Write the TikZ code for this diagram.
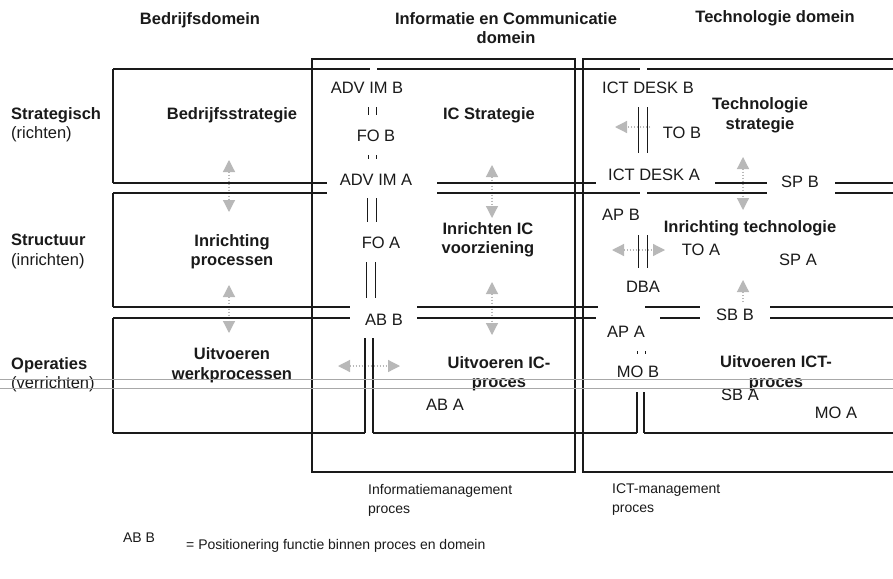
\documentclass[tikz,border=0pt]{standalone}
\usepackage{fontspec}
\setmainfont{Liberation Sans}
\usetikzlibrary{arrows.meta}
\definecolor{ink}{HTML}{1A1A1A}
\definecolor{ghost}{HTML}{B8B8B8}
\definecolor{scanline}{HTML}{A8A8A8}
\begin{document}
\begin{tikzpicture}[x=1pt,y=-1pt,
  txt/.style={font=\fontsize{16.5}{19.5}\selectfont, text=ink, inner sep=0pt, align=center},
  btxt/.style={txt, font=\fontsize{16.5}{19.5}\selectfont\bfseries},
  stxt/.style={font=\fontsize{14}{19}\selectfont, text=ink, inner sep=0pt, align=left},
  rule/.style={draw=ink, line width=1.1pt},
  link/.style={draw=ink, line width=1pt},
  garrow/.style={draw=ghost, line width=1.2pt, dash pattern=on 1.5pt off 1.5pt,
    {Triangle[width=12pt,length=12pt]}-{Triangle[width=12pt,length=12pt]}},
  garrowone/.style={draw=ghost, line width=1.2pt, dash pattern=on 1.5pt off 1.5pt,
    -{Triangle[width=12pt,length=12pt]}},
  fold/.style={draw=scanline, line width=0.8pt}
]
\useasboundingbox (0,0) rectangle (893,578);
\fill[white] (0,0) rectangle (893,578);
\clip (0,0) rectangle (893,578);

% ---- grey arrows (drawn first) ----
\coordinate (a1) at (229,160); \coordinate (a2) at (229,212);
\coordinate (a3) at (229,285); \coordinate (a4) at (229,333);
\coordinate (b1) at (492,165); \coordinate (b2) at (492,218);
\coordinate (b3) at (492,282); \coordinate (b4) at (492,335);
\coordinate (c1) at (743,157); \coordinate (c2) at (743,210);
\coordinate (c3) at (743,302); \coordinate (c4) at (743,280);
\coordinate (h1) at (338,366); \coordinate (h2) at (400,366);
\coordinate (h3) at (650,127); \coordinate (h4) at (615,127);
\coordinate (h5) at (612,250); \coordinate (h6) at (665,250);
\draw[garrow] (a1) -- (a2);
\draw[garrow] (a3) -- (a4);
\draw[garrow] (b1) -- (b2);
\draw[garrow] (b3) -- (b4);
\draw[garrow] (c1) -- (c2);
\draw[garrowone] (c3) -- (c4);
\draw[garrow] (h1) -- (h2);
\draw[garrowone] (h3) -- (h4);
\draw[garrow] (h5) -- (h6);

% ---- column frames ----
\draw[rule] (312,59) rectangle (575,472);
\draw[rule] (900,59) -- (583,59) -- (583,472) -- (900,472);

% ---- row frames ----
\foreach \a/\b in {69/183,193/307,318/433} \draw[rule] (113,\a) -- (113,\b);
\foreach \y/\s/\e in {69/113/370, 69/377/640, 69/647/900,
  183/113/327, 183/437/596, 183/715/767, 183/835/900,
  193/113/327, 193/437/640, 193/647/767, 193/835/900,
  307/113/350, 307/417/598, 307/645/700, 307/770/900,
  318/113/350, 318/417/596, 318/660/700, 318/770/900,
  433/113/365, 433/373/637, 433/644/900}
  \draw[rule] (\s,\y) -- (\e,\y);

% ---- headings ----
\node[btxt] (hBD) at (200,20) {Bedrijfsdomein};
\node[btxt] (hIC) at (506,28) {Informatie en Communicatie\\domein};
\node[btxt] (hTD) at (775,18) {Technologie domein};

% ---- row labels ----
\node[txt, anchor=west, align=left] (rS) at (11,124.5) {\textbf{Strategisch}\\(richten)};
\node[txt, anchor=west, align=left] (rI) at (11,251.5) {\textbf{Structuur}\\(inrichten)};
\node[txt, anchor=west, align=left] (rO) at (11,374.5) {\textbf{Operaties}\\(verrichten)};

% ---- business column ----
\node[btxt] (bs) at (232,115) {Bedrijfsstrategie};
\node[btxt] (bi) at (232,251.5) {Inrichting\\processen};
\node[btxt] (bu) at (232,365) {Uitvoeren\\werkprocessen};

% ---- IC column ----
\node[txt] (advimb) at (367,88) {ADV IM B};
\node[txt] (fob) at (376,136) {FO B};
\node[txt] (advima) at (376,180) {ADV IM A};
\node[txt] (foa) at (381,243) {FO A};
\node[txt] (abb) at (384,320) {AB B};
\node[txt] (aba) at (445,405) {AB A};
\node[btxt] (ics) at (489,115) {IC Strategie};
\node[btxt] (ici) at (488,240) {Inrichten IC\\voorziening};
\node[btxt] (icu) at (499,373.5) {Uitvoeren IC-\\proces};

% ---- technology column ----
\node[txt] (ictb) at (648,88) {ICT DESK B};
\node[txt] (tob) at (682,133) {TO B};
\node[btxt] (ts) at (760,115.5) {Technologie\\strategie};
\node[txt] (icta) at (654,175) {ICT DESK A};
\node[txt] (spb) at (800,182) {SP B};
\node[txt] (apb) at (621,215) {AP B};
\node[btxt] (ti) at (750,228) {Inrichting technologie};
\node[txt] (toa) at (701,250) {TO A};
\node[txt] (spa) at (798,260) {SP A};
\node[txt] (dba) at (643,287) {DBA};
\node[txt] (sbb) at (735,315) {SB B};
\node[txt] (apa) at (626,332) {AP A};
\node[txt] (mob) at (638,372) {MO B};
\node[btxt] (tu) at (776,373) {Uitvoeren ICT-\\proces};
\node[txt] (sba) at (740,395) {SB A};
\node[txt] (moa) at (836,413) {MO A};

% ---- function links (double lines) ----
\draw[link] (368,107) -- (368,115); \draw[link] (376,107) -- (376,115);
\draw[link] (368,155) -- (368,159); \draw[link] (376,155) -- (376,159);
\draw[link] (367,198) -- (367,222); \draw[link] (376,198) -- (376,222);
\draw[link] (366,262) -- (366,298); \draw[link] (375,262) -- (375,298);
\draw[rule] (365,338) -- (365,433); \draw[rule] (373,338) -- (373,433);
\draw[link] (638,107) -- (638,153); \draw[link] (647,107) -- (647,153);
\draw[link] (638,235) -- (638,268); \draw[link] (647,235) -- (647,268);
\draw[link] (637,351) -- (637,353.5); \draw[link] (645,351) -- (645,353.5);
\draw[rule] (637,392) -- (637,433); \draw[rule] (644,392) -- (644,433);

% ---- process captions ----
\node[stxt, anchor=north west] (imp) at (368,484) {Informatiemanagement\\proces};
\node[stxt, anchor=north west] (ictp) at (612,484) {ICT-management\\proces};

% ---- legend ----
\node[stxt] (lgab) at (139,538) {AB B};
\node[stxt, anchor=west] (lgtx) at (186,546) {= Positionering functie binnen proces en domein};

% ---- scan fold lines ----
\draw[fold] (0,379) -- (893,379);
\draw[fold] (0,388) -- (893,388);
\end{tikzpicture}
\end{document}
